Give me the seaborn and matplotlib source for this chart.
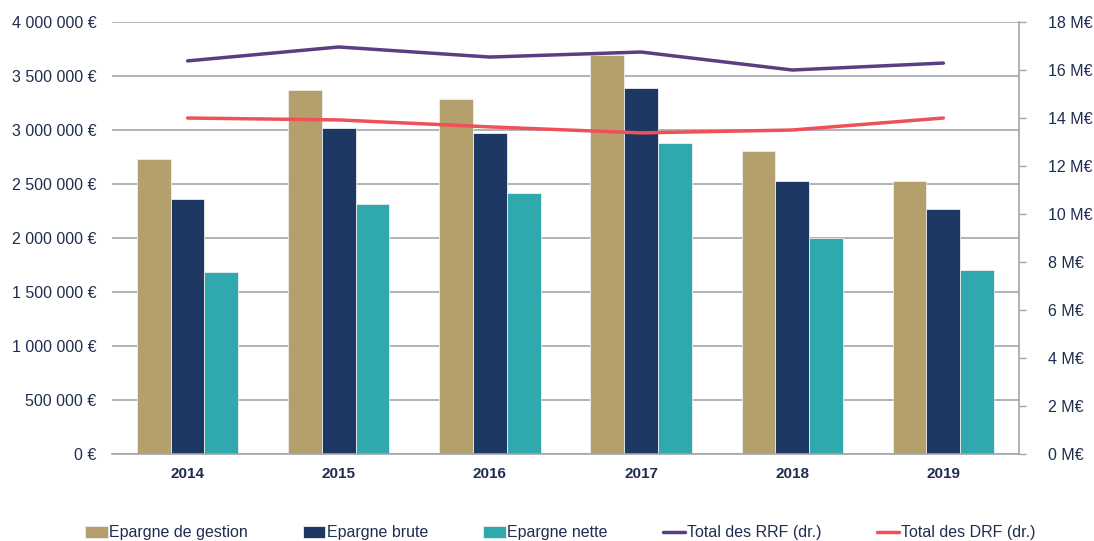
import pandas as pd
import numpy as np
import matplotlib.pyplot as plt
import seaborn as sns
from matplotlib.ticker import FuncFormatter

years = ["2014", "2015", "2016", "2017", "2018", "2019"]
epargne_gestion = [2731000, 3370000, 3287000, 3694000, 2806000, 2528000]
epargne_brute = [2361000, 3018000, 2972000, 3389000, 2528000, 2268000]
epargne_nette = [1685000, 2315000, 2417000, 2880000, 2000000, 1704000]
total_rrf = [16.38, 16.96, 16.54, 16.75, 16.0, 16.29]  # M€, right axis
total_drf = [14.0, 13.92, 13.63, 13.38, 13.5, 14.0]

bar_names = ["Epargne de gestion", "Epargne brute", "Epargne nette"]
bar_colors = ["#B3A06C", "#1D3862", "#2FA8AE"]
rrf_color = "#5A3E80"
drf_color = "#EE5157"
text_color = "#1F2D4F"
grid_color = "#A3A3AD"

sns.set_theme(style="white")
plt.rcParams['font.family'] = ['Liberation Sans', 'DejaVu Sans']

df = pd.DataFrame({
    "year": years * 3,
    "serie": [bar_names[0]] * 6 + [bar_names[1]] * 6 + [bar_names[2]] * 6,
    "value": epargne_gestion + epargne_brute + epargne_nette,
})

fig = plt.figure(figsize=(10.94, 5.41), dpi=100)
ax = fig.add_axes([0.1024, 0.1608, 0.829, 0.7985])

sns.barplot(data=df, x="year", y="value", hue="serie", palette=bar_colors,
            width=0.67, gap=0, edgecolor="#EEEEEE", linewidth=0.6,
            saturation=1, ax=ax, legend=True, zorder=2)
ax.set_ylim(0, 4000000)
ax.set_xlim(-0.5, 5.5)
ax.set_yticks(np.arange(0, 4000001, 500000))
ax.yaxis.set_major_formatter(FuncFormatter(
    lambda v, p: "{:,.0f} €".format(v).replace(",", " ")))
ax.grid(axis="y", color=grid_color, linewidth=1.2, zorder=0)
ax.set_axisbelow(True)
ax.set_xlabel("")
ax.set_ylabel("")
for s in ["top", "left", "right"]:
    ax.spines[s].set_visible(False)
ax.spines["bottom"].set_color(grid_color)
ax.spines["bottom"].set_linewidth(1.2)
ax.tick_params(axis="y", length=0, pad=11, labelsize=11.5, labelcolor=text_color)
ax.tick_params(axis="x", length=0, pad=9, labelsize=11, labelcolor=text_color)
for lab in ax.get_xticklabels():
    lab.set_fontweight("bold")

ax2 = ax.twinx()
xpos = np.arange(len(years))
sns.lineplot(x=xpos, y=total_rrf, color=rrf_color, linewidth=2.5,
             ax=ax2, label="Total des RRF (dr.)")
sns.lineplot(x=xpos, y=total_drf, color=drf_color, linewidth=2.5,
             ax=ax2, label="Total des DRF (dr.)")
ax2.set_ylim(0, 18)
ax2.set_yticks(np.arange(0, 19, 2))
ax2.yaxis.set_major_formatter(FuncFormatter(lambda v, p: "{:.0f} M€".format(v)))
ax2.set_xlim(-0.5, 5.5)
for s in ["top", "left", "bottom"]:
    ax2.spines[s].set_visible(False)
ax2.spines["right"].set_color(grid_color)
ax2.spines["right"].set_linewidth(1.2)
ax2.tick_params(axis="y", length=5, width=1, color=grid_color, pad=16,
                labelsize=11.5, labelcolor=text_color)
ax2.grid(False)

h1, l1 = ax.get_legend_handles_labels()
h2, l2 = ax2.get_legend_handles_labels()
ax.get_legend().remove()
ax2.get_legend().remove()
fig.legend(h1 + h2, l1 + l2, loc="center", bbox_to_anchor=(0.512, 0.015),
           ncol=5, frameon=False, fontsize=11.5, labelcolor=text_color,
           handlelength=1.4, handleheight=0.75, handletextpad=0.1,
           columnspacing=3.45)

fig.savefig("out.png", dpi=100)
